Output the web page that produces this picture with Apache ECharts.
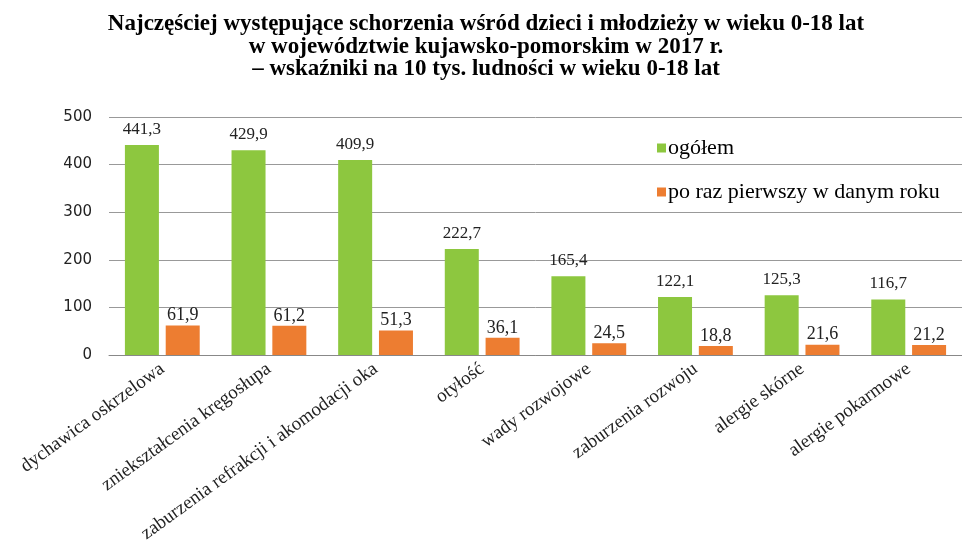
<!DOCTYPE html>
<html>
<head>
<meta charset="utf-8">
<script src="https://cdn.jsdelivr.net/npm/echarts@6/dist/echarts.min.js"></script>
<style>
  html, body { margin: 0; padding: 0; background: #fff; }
  #chart { width: 962px; height: 556px; }
</style>
</head>
<body>
<div id="chart"></div>
<script>
const categories = ['dychawica oskrzelowa', 'zniekształcenia kręgosłupa', 'zaburzenia refrakcji i akomodacji oka',
  'otyłość', 'wady rozwojowe', 'zaburzenia rozwoju', 'alergie skórne', 'alergie pokarmowe'];
const ogolem = [441.3, 429.9, 409.9, 222.7, 165.4, 122.1, 125.3, 116.7];
const poRazPierwszy = [61.9, 61.2, 51.3, 36.1, 24.5, 18.8, 21.6, 21.2];
const yTicks = [0, 100, 200, 300, 400, 500];

const serif = '"Liberation Serif", "DejaVu Serif", serif';
const fmt = p => String(p.value).replace('.', ',');

let chart = echarts.init(document.getElementById('chart'));
chart.setOption({
  animation: false,
  title: {
    text: 'Najczęściej występujące schorzenia wśród dzieci i młodzieży w wieku 0-18 lat\nw województwie kujawsko-pomorskim w 2017 r.\n– wskaźniki na 10 tys. ludności w wieku 0-18 lat',
    left: 481,
    top: 8,
    textAlign: 'center',
    textStyle: { fontFamily: serif, fontSize: 23, fontWeight: 'bold', color: '#000', lineHeight: 22.5 }
  },
  legend: {
    orient: 'vertical',
    left: 652,
    top: 132,
    itemWidth: 9,
    itemHeight: 9,
    itemGap: 22,
    icon: 'rect',
    textStyle: { fontFamily: serif, fontSize: 22, color: '#000', padding: [0, 0, 0, -3] },
    data: ['ogółem', 'po raz pierwszy w danym roku']
  },
  grid: { left: 109, right: -8, top: 117, bottom: 201, containLabel: false },
  xAxis: {
    type: 'category',
    data: categories,
    axisLine: { lineStyle: { color: '#888' } },
    axisTick: { lineStyle: { color: '#888' } },
    axisLabel: {
      interval: 0,
      rotate: 36,
      margin: 12,
      fontFamily: serif,
      fontSize: 19,
      color: '#222'
    }
  },
  yAxis: {
    type: 'value',
    min: yTicks[0],
    max: yTicks[yTicks.length - 1],
    interval: 100,
    axisLine: { show: false },
    axisTick: { show: false },
    splitLine: { lineStyle: { color: '#999' } },
    axisLabel: { fontFamily: '"DejaVu Sans", sans-serif', fontSize: 15, color: '#222', margin: 17 }
  },
  series: [
    {
      name: 'ogółem',
      type: 'bar',
      data: ogolem,
      barWidth: 34,
      barGap: '20%',
      itemStyle: { color: '#8DC73F' },
      label: { show: true, position: 'top', distance: 7, formatter: fmt, fontFamily: serif, fontSize: 17, color: '#222' }
    },
    {
      name: 'po raz pierwszy w danym roku',
      type: 'bar',
      data: poRazPierwszy,
      barWidth: 34,
      itemStyle: { color: '#ED7D31' },
      label: { show: true, position: 'top', distance: 1, formatter: fmt, fontFamily: serif, fontSize: 18, color: '#222' }
    }
  ]
});
</script>
</body>
</html>
